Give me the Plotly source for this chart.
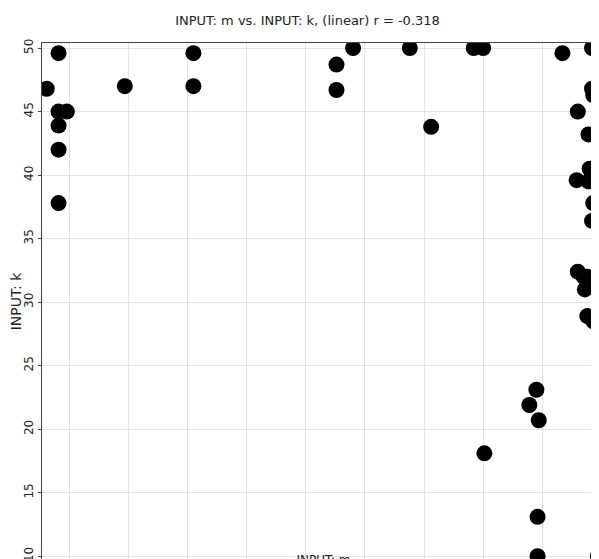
import plotly.graph_objects as go

m = [0.31,0.41,0.41,0.48,0.41,0.41,0.41,0.97,1.55,1.55,2.76,2.76,2.9,3.38,3.56,3.92,4.0,4.67,
     4.01,4.45,4.39,4.47,4.46,4.46,4.97,4.98,4.99,
     4.92,5.0,4.98,5.0,4.92,4.93,4.8,5.0,4.89,5.0,5.0,5.0,4.9,4.79,4.89,4.93,4.92,
     4.8,4.88,4.86,4.85,4.88,4.93]
k = [46.8,49.6,45,45,43.9,42,37.8,47,49.6,47,48.7,46.7,50,50,43.8,50,50,49.6,
     18.1,23.1,21.9,20.7,13.1,10,10,17.8,30.8,
     50,50,48.9,47.4,46.8,46.3,45,45,43.2,43.8,42.3,40.7,40.5,39.6,39.5,37.8,36.4,
     32.4,32,31,32,28.9,28.5]

fig = go.Figure(go.Scatter(x=m, y=k, mode="markers", cliponaxis=True,
                           marker=dict(color="black", size=16)))
fig.update_layout(
    width=599, height=559, plot_bgcolor="white", paper_bgcolor="white",
    margin=dict(l=34, r=2, t=35, b=7, autoexpand=False),
    font=dict(family="DejaVu Sans", size=12, color="#222"),
    title=dict(text="INPUT: m vs. INPUT: k, (linear) r = -0.318", x=0.5, y=0.985,
               xanchor="center", yanchor="top", font=dict(size=13)),
    showlegend=False,
)
fig.update_xaxes(range=[0.27, 5.03], dtick=0.5, showgrid=True, gridcolor="#e3e3e3",
                 showline=True, linecolor="#444", mirror=True, ticks="outside",
                 ticklen=3, zeroline=False, automargin=False,
                 title=dict(text="INPUT: m", standoff=0, font=dict(size=12)))
fig.update_yaxes(range=[9.7, 50.4], dtick=5, showgrid=True, gridcolor="#e3e3e3",
                 showline=True, linecolor="#444", mirror=True, ticks="outside",
                 ticklen=3, zeroline=False, tickangle=-90, automargin=False,
                 title=dict(text="INPUT: k", standoff=0))
fig.write_html("out.html")
